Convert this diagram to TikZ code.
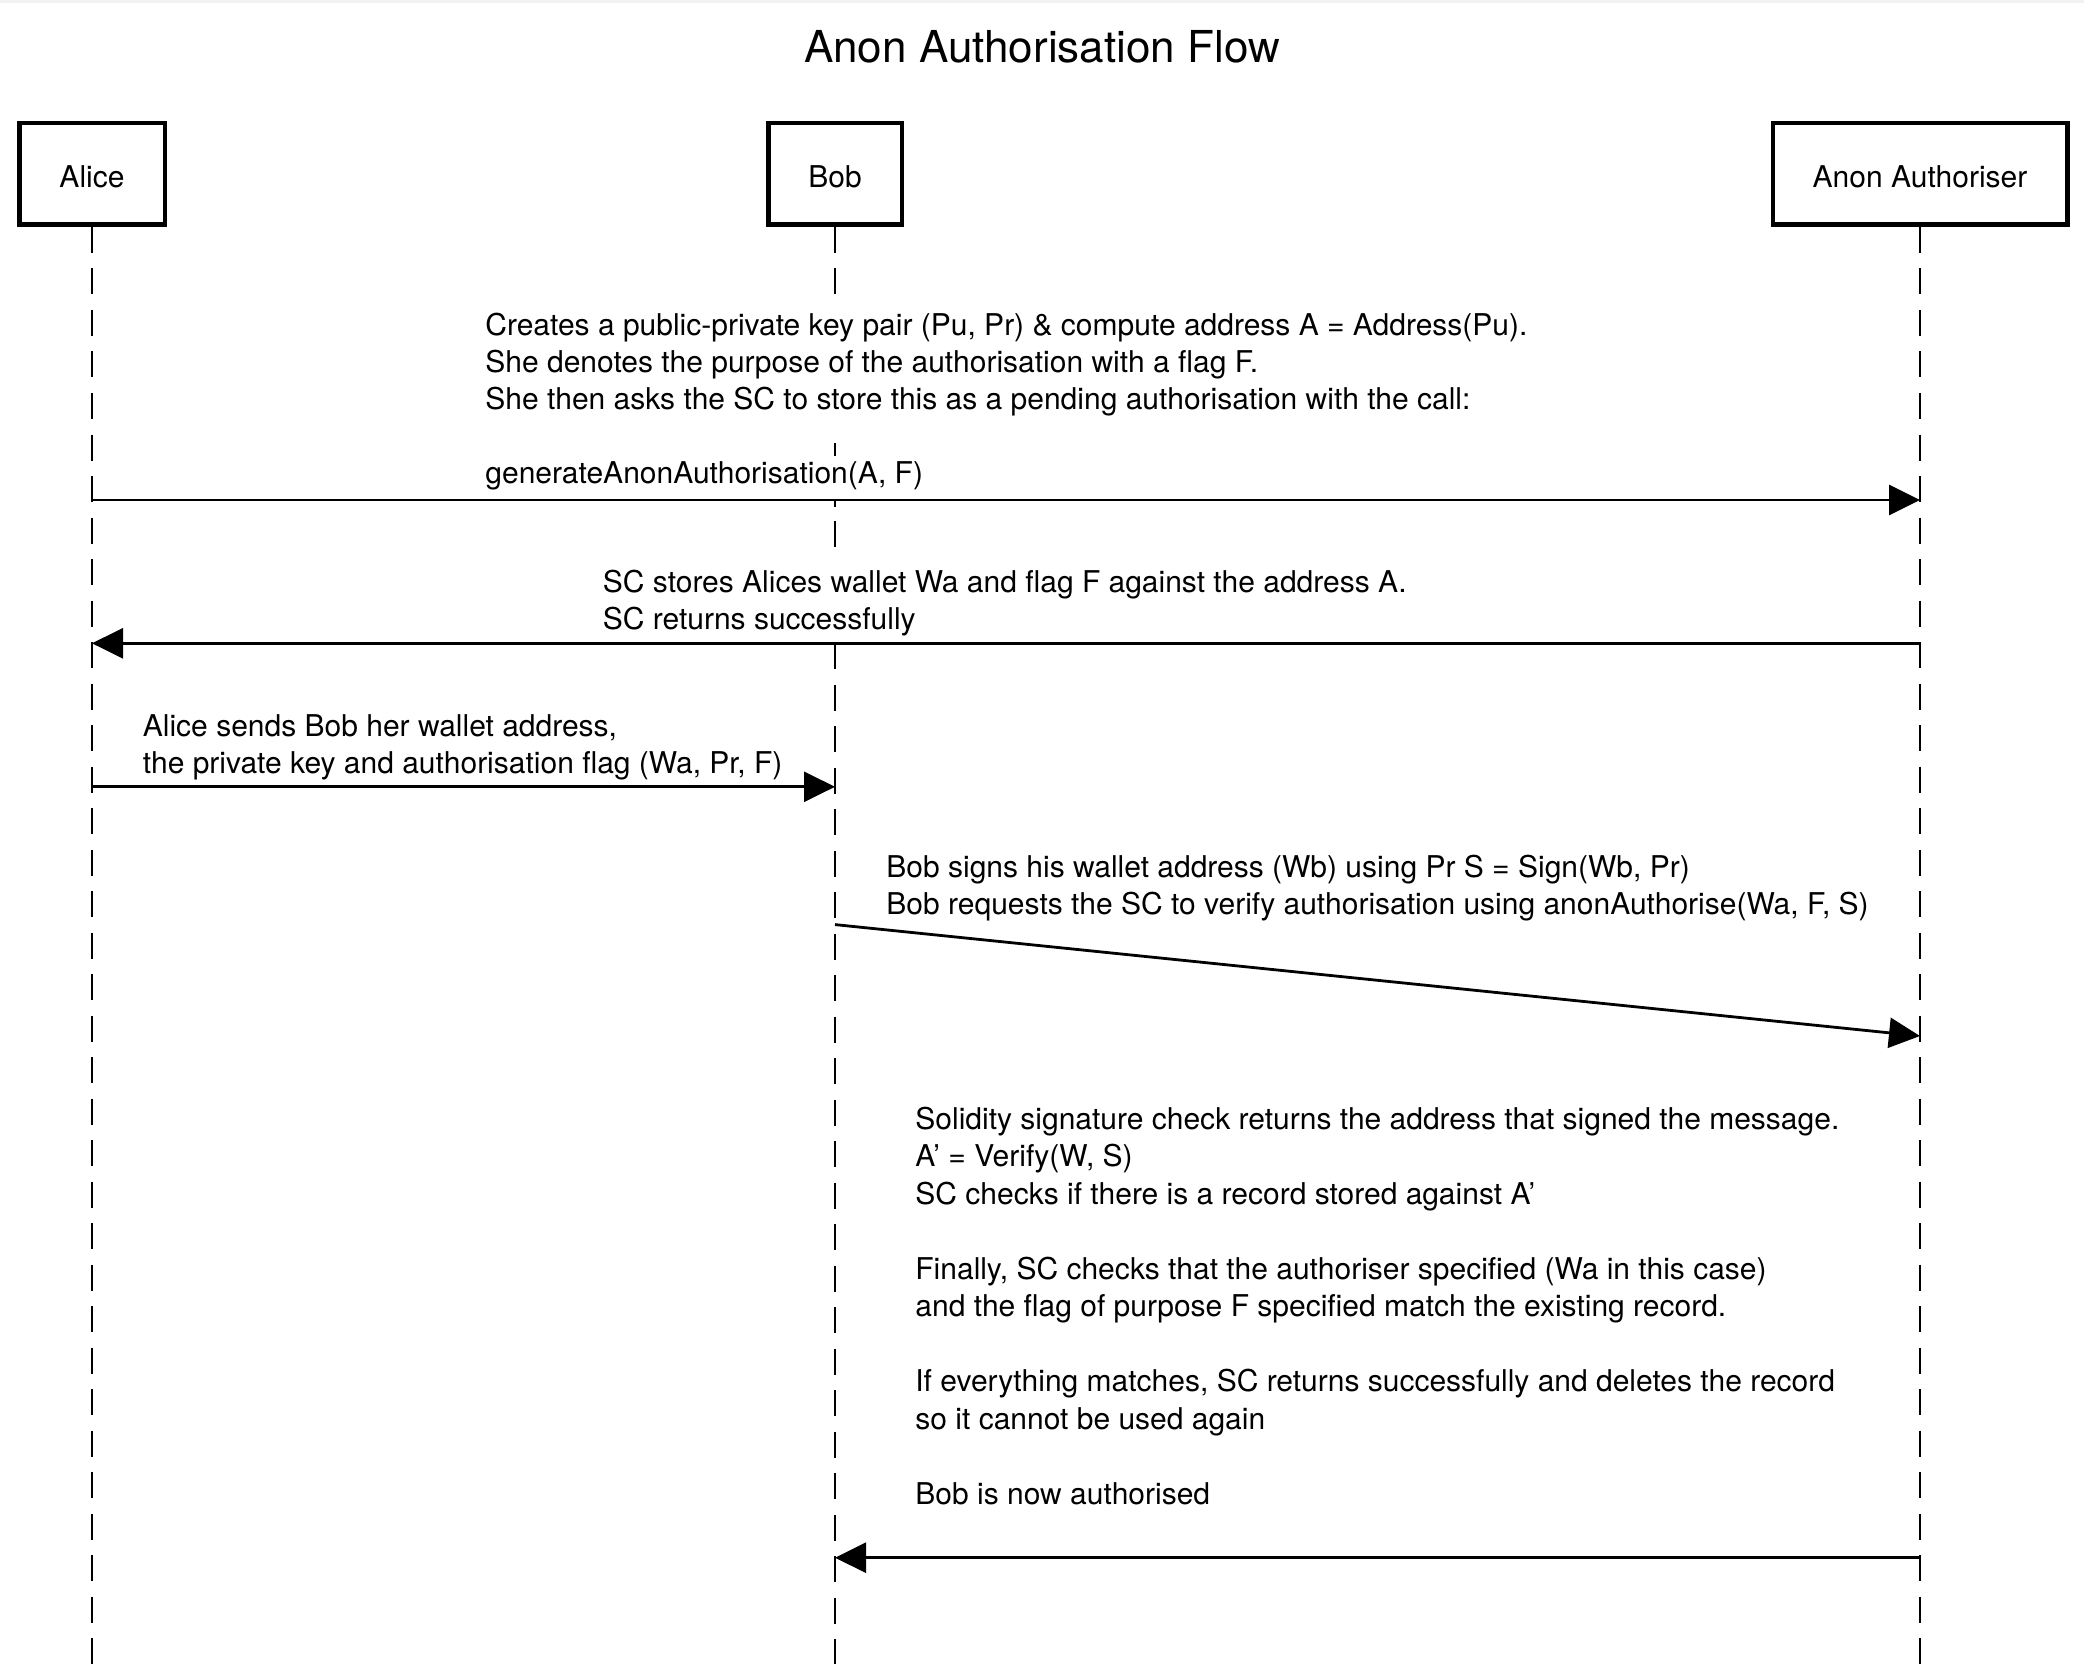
\documentclass[tikz,border=0pt]{standalone}
\usepackage{fontspec}
\setmainfont{TeX Gyre Heros}
\usetikzlibrary{arrows.meta}
\begin{document}
\begin{tikzpicture}[x=0.5pt,y=-0.5pt,
  actor/.style={draw=black, line width=2.25pt, fill=white, inner sep=0pt,
    font=\fontsize{15}{18}\selectfont, text height=13.5pt, text depth=0pt,
    minimum height=50.75pt},
  lifeline/.style={draw=black, line width=1.2pt, dash pattern=on 13pt off 7.75pt},
  msg/.style={draw=black, line width=1.4pt, -{Triangle[length=15.5pt,width=15pt]}},
  lbl/.style={font=\fontsize{15}{18}\selectfont, anchor=base west, inner xsep=0pt,
    inner ysep=1pt, fill=white, text height=13pt, text depth=7pt},
  ttl/.style={font=\fontsize{22}{26}\selectfont, anchor=base, inner sep=0pt}]
\useasboundingbox (0,0) rectangle (2084,1664);
\fill[black!5] (0,0) rectangle (2084,3.5);

\node[ttl] (title) at (1042,62.5) {Anon Authorisation Flow};

% actors
\node[actor, minimum width=72.75pt] (alice) at (92,174) {Alice};
\node[actor, minimum width=66.75pt] (bob) at (835,174) {Bob};
\node[actor, minimum width=147.25pt] (anon) at (1920,174) {Anon Authoriser};

% lifelines (Bob's is interrupted where the labels lie over it)
\coordinate (aliceEnd) at (92,1664);
\coordinate (bobEnd) at (835,1664);
\coordinate (anonEnd) at (1920,1664);
\draw[lifeline] (alice.south) -- (aliceEnd);
\draw[lifeline] (anon.south) -- (anonEnd);
\draw[lifeline] (bob.south) -- (bob |- 0,296);
\draw[lifeline] (bob |- 0,443) -- (bob |- 0,461);
\draw[lifeline] (bob |- 0,498) -- (bob |- 0,507);
\draw[lifeline] (bob |- 0,521) -- (bob |- 0,547);
\draw[lifeline] (bob |- 0,643) -- (bobEnd);

% message 1 label
\node[lbl] (t1a) at (485,335.7) {Creates a public-private key pair (Pu, Pr) \& compute address A = Address(Pu).};
\node[lbl] (t1b) at (485,372.7) {She denotes the purpose of the authorisation with a flag F.};
\node[lbl] (t1c) at (485,409.7) {She then asks the SC to store this as a pending authorisation with the call:};
\node[lbl] (t1d) at (485,483.7) {generateAnonAuthorisation(A, F)};

% message 2 label
\node[lbl] (t2a) at (602.5,592) {SC stores Alices wallet Wa and flag F against the address A.};
\node[lbl] (t2b) at (602.5,629) {SC returns successfully};

% message 3 label
\node[lbl] (t3a) at (142.5,736) {Alice sends Bob her wallet address,};
\node[lbl] (t3b) at (142.5,773) {the private key and authorisation flag (Wa, Pr, F)};

% message 4 label
\node[lbl] (t4a) at (886,877) {Bob signs his wallet address (Wb) using Pr S = Sign(Wb, Pr)};
\node[lbl] (t4b) at (886,914) {Bob requests the SC to verify authorisation using anonAuthorise(Wa, F, S)};

% message 5 label
\node[lbl] (t5a) at (915,1129) {Solidity signature check returns the address that signed the message.};
\node[lbl] (t5b) at (915,1166.5) {A' = Verify(W, S)};
\node[lbl] (t5c) at (915,1204) {SC checks if there is a record stored against A'};
\node[lbl] (t5d) at (915,1279) {Finally, SC checks that the authoriser specified (Wa in this case)};
\node[lbl] (t5e) at (915,1316.5) {and the flag of purpose F specified match the existing record.};
\node[lbl] (t5f) at (915,1391.5) {If everything matches, SC returns successfully and deletes the record};
\node[lbl] (t5g) at (915,1429) {so it cannot be used again};
\node[lbl] (t5h) at (915,1504) {Bob is now authorised};

% messages
\draw[msg] (alice |- 0,500) -- (anon |- 0,500);
\draw[msg] (anon |- 0,643.3) -- (alice |- 0,643.3);
\draw[msg] (alice |- 0,786.8) -- (bob |- 0,786.8);
\draw[msg] (bob |- 0,924.6) -- (anon |- 0,1036);
\draw[msg] (anon |- 0,1557.7) -- (bob |- 0,1557.7);
\end{tikzpicture}
\end{document}
